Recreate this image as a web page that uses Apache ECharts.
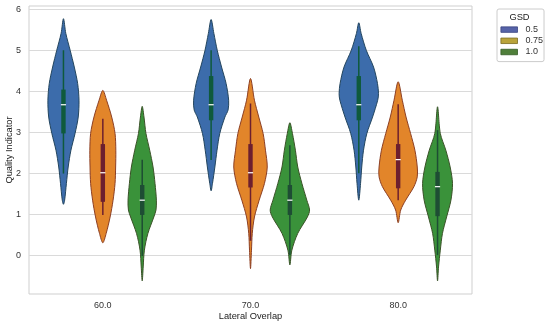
<!DOCTYPE html>
<html>
<head>
<meta charset="utf-8">
<script src="https://cdn.jsdelivr.net/npm/echarts@6/dist/echarts.min.js"></script>
<style>html,body{margin:0;padding:0;background:#fff}#c{width:550px;height:326px}</style>
</head>
<body>
<div id="c"></div>
<script>
const categories = ['60.0', '70.0', '80.0'];
const gsdLevels = ['0.5', '0.75', '1.0'];
const yTicks = [0, 1, 2, 3, 4, 5, 6];

// density profiles: [value, relative half-width]
const shape05_60 = [[5.77,0],[5.41,0.12],[5.0,0.34],[4.59,0.55],[4.19,0.72],[3.78,0.79],[3.37,0.75],[2.97,0.59],[2.56,0.38],[2.15,0.24],[1.75,0.15],[1.34,0.06],[1.24,0]];
const shape05_70 = [[5.75,0],[5.41,0.14],[5.0,0.31],[4.59,0.53],[4.19,0.76],[3.78,0.89],[3.54,0.86],[3.37,0.70],[2.97,0.44],[2.56,0.30],[2.15,0.19],[1.75,0.07],[1.57,0]];
const shape05_80 = [[5.67,0],[5.41,0.12],[5.0,0.38],[4.59,0.75],[4.19,0.95],[3.94,1.0],[3.78,0.96],[3.37,0.70],[2.97,0.41],[2.56,0.24],[2.15,0.15],[1.75,0.09],[1.34,0]];
const shape075_60 = [[4.02,0],[3.78,0.19],[3.37,0.45],[2.97,0.62],[2.56,0.66],[2.15,0.65],[1.75,0.62],[1.34,0.52],[0.93,0.37],[0.53,0.17],[0.30,0]];
const shape075_70 = [[4.31,0],[3.78,0.20],[3.37,0.42],[2.97,0.64],[2.56,0.76],[2.15,0.85],[1.75,0.71],[1.34,0.44],[0.93,0.20],[0.53,0.09],[0.12,0.05],[-0.33,0]];
const shape075_80 = [[4.23,0],[3.78,0.21],[3.37,0.40],[2.97,0.63],[2.56,0.85],[2.15,0.97],[1.91,0.97],[1.67,0.80],[1.34,0.38],[1.1,0.13],[0.79,0]];
const shape10_60 = [[3.63,0],[3.37,0.09],[2.97,0.19],[2.56,0.38],[2.15,0.55],[1.75,0.65],[1.34,0.72],[1.1,0.70],[0.93,0.59],[0.53,0.29],[0.12,0.11],[-0.29,0.05],[-0.63,0]];
const shape10_70 = [[3.23,0],[2.97,0.13],[2.56,0.28],[2.15,0.40],[1.75,0.61],[1.34,0.86],[1.1,1.0],[0.93,0.89],[0.53,0.40],[0.12,0.10],[-0.24,0]];
const shape10_80 = [[3.62,0],[2.97,0.14],[2.56,0.42],[2.15,0.64],[1.75,0.76],[1.34,0.68],[0.93,0.46],[0.53,0.25],[0.12,0.14],[-0.29,0.05],[-0.63,0]];

// box stats per category: [whisker low, q1, median, q3, whisker high]
const box05 = [[1.99,2.97,3.67,4.04,5.0],[2.32,3.29,3.67,4.37,5.0],[2.0,3.29,3.67,4.37,5.1]];
const box075 = [[0.98,1.30,2.01,2.71,3.33],[0.35,1.65,2.01,2.71,3.70],[1.34,1.63,2.33,2.71,3.68]];
const box10 = [[-0.02,0.98,1.34,1.71,2.33],[0.0,0.98,1.34,1.71,2.68],[0.0,0.95,1.67,2.03,3.05]];

const shapes = [[shape05_60, shape05_70, shape05_80],[shape075_60, shape075_70, shape075_80],[shape10_60, shape10_70, shape10_80]];
const boxes = [box05, box075, box10];

const styles = [
  {fill:'#3c6cab', stroke:'#23455e', box:'#0f5a3c', legend:'#5663a8', legendBorder:'#3a4480'},
  {fill:'#e2852a', stroke:'#8c3f24', box:'#6c1f2f', legend:'#b9a33a', legendBorder:'#7a6a20'},
  {fill:'#3a923a', stroke:'#3a5228', box:'#1e4d34', legend:'#4f7f3a', legendBorder:'#345a25'}
];
const FONT = 'Liberation Sans, Arial, sans-serif';

function makeRender(hue) {
  return function (params, api) {
    const cat = api.value(0);
    const band = api.size([1, 0])[0];
    const slot = band * 0.8 / 3;
    const half = slot / 2;
    const cx = api.coord([cat, 0])[0] + (hue - 1) * slot;
    const prof = shapes[hue][cat];
    const st = styles[hue];
    const right = prof.map(p => [cx + p[1] * half, api.coord([cat, p[0]])[1]]);
    const left = prof.slice(1, -1).reverse().map(p => [cx - p[1] * half, api.coord([cat, p[0]])[1]]);
    const b = boxes[hue][cat];
    const yLo = api.coord([cat, b[0]])[1], yQ1 = api.coord([cat, b[1]])[1], yMed = api.coord([cat, b[2]])[1],
          yQ3 = api.coord([cat, b[3]])[1], yHi = api.coord([cat, b[4]])[1];
    return {
      type: 'group',
      children: [
        {type:'polygon', shape:{points: right.concat(left), smooth: 0.3},
         style:{fill: st.fill, stroke: st.stroke, lineWidth: 1}},
        {type:'line', shape:{x1:cx, y1:yLo, x2:cx, y2:yHi}, style:{stroke: st.box, lineWidth: 1.5}},
        {type:'rect', shape:{x: cx - 2.2, y: yQ3, width: 4.4, height: yQ1 - yQ3}, style:{fill: st.box}},
        {type:'line', shape:{x1:cx - 2.6, y1:yMed, x2:cx + 2.6, y2:yMed}, style:{stroke:'#ffffff', lineWidth: 1.2}}
      ]
    };
  };
}

const chart = echarts.init(document.getElementById('c'), null, {renderer: 'canvas'});
chart.setOption({
  animation: false,
  backgroundColor: '#ffffff',
  grid: {left: 29, right: 78, top: 6, bottom: 32, show: true, borderColor: '#cfcfcf', borderWidth: 1,
         containLabel: false, outerBoundsMode: 'none'},
  xAxis: {
    type: 'category', data: categories, boundaryGap: true,
    axisLine: {show: false}, axisTick: {show: false}, splitLine: {show: false},
    axisLabel: {fontSize: 9, color: '#333', fontFamily: FONT, margin: 7},
    name: 'Lateral Overlap', nameLocation: 'middle', nameGap: 18, nameMoveOverlap: false,
    nameTextStyle: {fontSize: 9.3, color: '#222', fontFamily: FONT}
  },
  yAxis: {
    type: 'value', min: -0.95, max: 6.08,
    axisLine: {show: false},
    axisTick: {show: false, customValues: yTicks},
    splitLine: {show: true, lineStyle: {color: '#dadada', width: 1}},
    axisLabel: {fontSize: 9, color: '#333', fontFamily: FONT, margin: 8, customValues: yTicks},
    name: 'Quality Indicator', nameLocation: 'middle', nameGap: 15, nameRotate: 90, nameMoveOverlap: false,
    nameTextStyle: {fontSize: 9.3, color: '#222', fontFamily: FONT}
  },
  legend: {
    orient: 'vertical', left: 497, top: 9,
    padding: [15, 1, 4, 3.5], itemGap: 0, itemWidth: 16.6, itemHeight: 5.5,
    borderColor: '#cccccc', borderWidth: 1, borderRadius: 2,
    textStyle: {fontSize: 9, color: '#333', fontFamily: FONT, lineHeight: 11.2, padding: [0, 0, 0, 3]},
    data: gsdLevels.map((n, i) => ({name: n, icon: 'rect',
      itemStyle: {color: styles[i].legend, borderColor: styles[i].legendBorder, borderWidth: 0.8}}))
  },
  graphic: [{type: 'text', x: 519.5, y: 17.5,
    style: {text: 'GSD', fontSize: 9.3, fill: '#222', fontFamily: FONT, align: 'center', verticalAlign: 'middle'}}],
  series: gsdLevels.map((n, h) => ({
    type: 'custom', name: n,
    itemStyle: {color: styles[h].legend},
    renderItem: makeRender(h),
    encode: {x: 0, y: 1},
    data: categories.map((c, j) => [j, boxes[h][j][2]])
  }))
});
</script>
</body>
</html>
